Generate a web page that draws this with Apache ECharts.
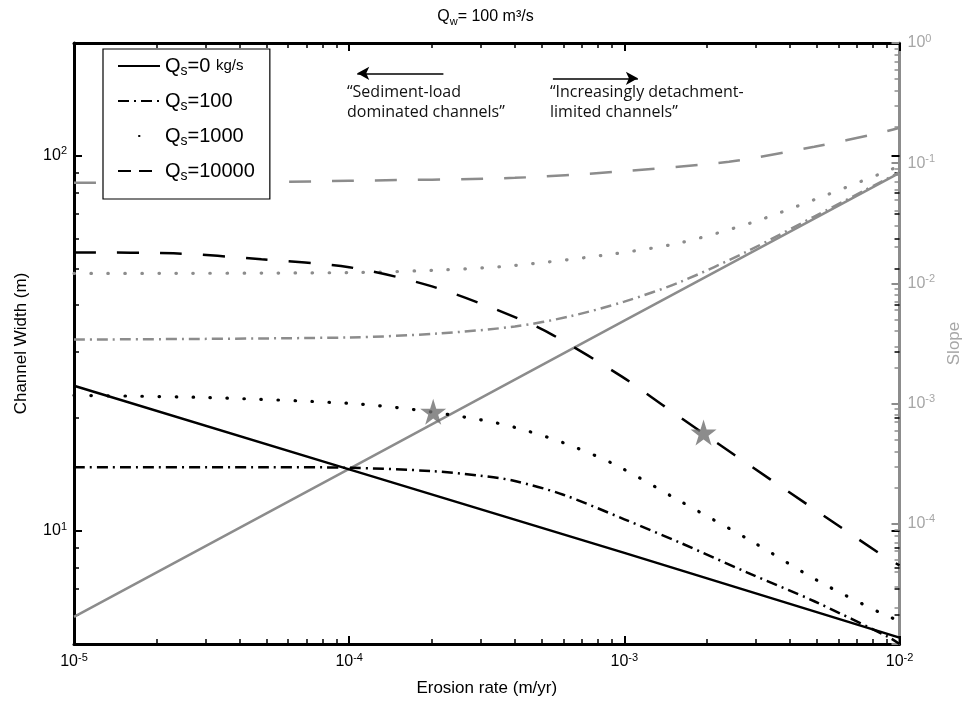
<!DOCTYPE html>
<html>
<head>
<meta charset="utf-8">
<script src="https://cdn.jsdelivr.net/npm/echarts@6/dist/echarts.min.js"></script>
<style>
  html, body { margin: 0; padding: 0; background: #fff; }
  #chart { width: 971px; height: 702px; }
</style>
</head>
<body>
<div id="chart"></div>
<script>
// erosion rate (m/yr) vs channel width (m), black; vs slope, grey
const widthQs0 = [[1e-5, 24.4], [1e-4, 14.6], [1e-3, 8.75], [1e-2, 5.2]]
const widthQs100 = [[1e-5, 14.8], [5e-5, 14.8], [1e-4, 14.75], [2e-4, 14.45], [3e-4, 14.05], [4e-4, 13.6], [6e-4, 12.5],
  [1e-3, 10.75], [1.6e-3, 9.3], [2.8e-3, 7.75], [4.9e-3, 6.5], [9.2e-3, 5.2], [1e-2, 5.0]]
const widthQs1000 = [[1e-5, 23.0], [3e-5, 22.7], [1e-4, 21.9], [1.7e-4, 21.1], [3e-4, 19.8], [4e-4, 18.9],
  [6e-4, 17.2], [9.3e-4, 15.0], [1.6e-3, 12.0], [2.9e-3, 9.4], [5e-3, 7.4], [8.9e-3, 5.96], [1e-2, 5.77]]
const widthQs10000 = [[1e-5, 55.3], [2.3e-5, 55.0], [4.8e-5, 53.0], [1e-4, 50.5], [2e-4, 44.9], [4e-4, 37.2],
  [5.5e-4, 33.3], [9.8e-4, 25.8], [1.4e-3, 21.5], [2.5e-3, 16.0], [4.6e-3, 11.8], [8.5e-3, 8.7], [1e-2, 8.1]]

const slopeQs0 = [[1e-5, 1.68e-5], [1e-4, 2.86e-4], [1e-3, 4.9e-3], [1e-2, 8.3e-2]]
const slopeQs100 = [[1e-5, 3.41e-3], [1e-4, 3.55e-3], [2.1e-4, 3.83e-3], [4e-4, 4.38e-3], [6.3e-4, 5.3e-3],
  [1e-3, 7.06e-3], [1.6e-3, 1.03e-2], [2.8e-3, 1.85e-2], [4.9e-3, 3.6e-2], [1e-2, 8.4e-2]]
const slopeQs1000 = [[1e-5, 1.21e-2], [1e-4, 1.23e-2], [2.25e-4, 1.30e-2], [4e-4, 1.41e-2], [9.3e-4, 1.77e-2],
  [1.6e-3, 2.18e-2], [2.9e-3, 3.2e-2], [4.9e-3, 4.97e-2], [8.9e-3, 8.5e-2], [1e-2, 9.5e-2]]
const slopeQs10000 = [[1e-5, 6.88e-2], [3e-5, 6.88e-2], [1e-4, 7.14e-2], [4e-4, 7.56e-2], [9.3e-4, 8.48e-2],
  [2.4e-3, 0.103], [4.9e-3, 0.137], [8.5e-3, 0.179], [1e-2, 0.197]]

const stars = [[2.02e-4, 20.8], [1.94e-3, 18.3]]
const dividerRate = 4e-4
const arrowLeft = [[2.2e-4, 166], [1.07e-4, 166]]
const arrowRight = [[5.5e-4, 161], [1.12e-3, 161]]

const legendNames = ['Qs=0 kg/s', 'Qs=100', 'Qs=1000', 'Qs=10000']
const legendLabels = ['{q|Q}{s|s}{q|=0 }{u|kg/s}', '{q|Q}{s|s}{q|=100}', '{q|Q}{s|s}{q|=1000}', '{q|Q}{s|s}{q|=10000}']

const erosionTicks = [1e-5, 1e-4, 1e-3, 1e-2]
const widthTicks = [10, 100]
const widthMinorTicks = [5, 6, 7, 8, 9, 20, 30, 40, 50, 60, 70, 80, 90, 200]
const slopeTicks = [1e-5, 1e-4, 1e-3, 1e-2, 1e-1, 1]
const slopeLabels = [1e-4, 1e-3, 1e-2, 1e-1, 1]

function minorOf(decades) {
  let out = []
  decades.slice(0, -1).forEach((d) => {
    for (let m = 2; m <= 9; m++) out.push(m * d)
  })
  return out
}

const FONT = 'Liberation Sans'
const GREY = '#8c8c8c'
const LABEL_GREY = '#a6a6a6'
const DASHDOT = [11, 5, 2, 5]
const DOTTED = [0.5, 16.5]
const DASHED = [22, 21]

function powRich(color) {
  return {
    b: { fontSize: 16, fontFamily: FONT, lineHeight: 20, color: color },
    e: { fontSize: 11, fontFamily: FONT, lineHeight: 9, verticalAlign: 'top', color: color }
  }
}
function powLabel(v) {
  return '{b|10}{e|' + Math.round(Math.log10(v)) + '}'
}

function tickAxis(base, values, len, color, extra) {
  return Object.assign({
    type: 'log',
    logBase: 10,
    splitLine: { show: false },
    axisLine: { show: false, onZero: false },
    axisLabel: { show: false },
    axisTick: { inside: true, length: len, customValues: values, lineStyle: { color: color, width: len > 6 ? 2 : 1.5 } }
  }, base, extra || {})
}

const xBase = { min: 1e-5, max: 1e-2 }
const yLeft = { min: 5, max: 200 }
const ySlope = { min: 1e-5, max: 1 }

const option = {
  animation: false,
  backgroundColor: '#fff',
  textStyle: { fontFamily: FONT },
  title: {
    text: '{q|Q}{s|w}{q|= 100 m³/s}',
    left: 'center',
    top: 2,
    textStyle: {
      fontWeight: 'normal',
      rich: {
        q: { fontSize: 16, fontFamily: FONT, fontWeight: 'normal', color: '#000', lineHeight: 20 },
        s: { fontSize: 11, fontFamily: FONT, fontWeight: 'normal', color: '#000', lineHeight: 8, verticalAlign: 'bottom' }
      }
    }
  },
  grid: { left: 74, right: 64, top: 43, bottom: 57 },
  legend: {
    orient: 'vertical',
    left: 103,
    top: 49,
    padding: [7, 15, 16, 14],
    itemWidth: 42,
    itemHeight: 14,
    itemGap: 13,
    borderColor: '#000',
    borderWidth: 1.2,
    borderRadius: 0,
    backgroundColor: '#fff',
    itemStyle: { color: 'rgba(0,0,0,0)', borderWidth: 0 },
    data: [
      { name: legendNames[0] },
      { name: legendNames[1] },
      { name: legendNames[2], lineStyle: { type: [0.5, 60], dashOffset: -21 } },
      { name: legendNames[3], lineStyle: { type: [13, 8] } }
    ],
    formatter: (name) => legendLabels[legendNames.indexOf(name)],
    textStyle: {
      color: '#000',
      rich: {
        q: { fontSize: 20, fontFamily: FONT, color: '#000', lineHeight: 24 },
        s: { fontSize: 14, fontFamily: FONT, color: '#000', lineHeight: 8, verticalAlign: 'bottom' },
        u: { fontSize: 15, fontFamily: FONT, color: '#000', lineHeight: 24 }
      }
    }
  },
  xAxis: [
    tickAxis(xBase, erosionTicks, 8, '#000', {
      position: 'bottom',
      axisLine: { show: true, onZero: false, lineStyle: { color: '#000', width: 3 } },
      axisLabel: { show: true, customValues: erosionTicks, margin: 8, color: '#000', formatter: powLabel, rich: powRich('#000') },
      name: 'Erosion rate (m/yr)',
      nameLocation: 'middle',
      nameGap: 36,
      nameTextStyle: { fontSize: 17, fontFamily: FONT, color: '#000' }
    }),
    tickAxis(xBase, minorOf(erosionTicks), 5, '#000', { position: 'bottom' }),
    tickAxis(xBase, erosionTicks, 8, '#000', {
      position: 'top',
      axisLine: { show: true, onZero: false, lineStyle: { color: '#000', width: 3 } }
    }),
    tickAxis(xBase, minorOf(erosionTicks), 5, '#000', { position: 'top' })
  ],
  yAxis: [
    tickAxis(yLeft, widthTicks, 8, '#000', {
      position: 'left',
      axisLine: { show: true, onZero: false, lineStyle: { color: '#000', width: 3 } },
      axisLabel: { show: true, customValues: widthTicks, margin: 7, color: '#000', formatter: powLabel, rich: powRich('#000') },
      name: 'Channel Width (m)',
      nameLocation: 'middle',
      nameGap: 44,
      nameTextStyle: { fontSize: 17, fontFamily: FONT, color: '#000' }
    }),
    tickAxis(yLeft, widthMinorTicks, 5, '#000', { position: 'left' }),
    tickAxis(yLeft, widthTicks, 8, '#000', { position: 'right' }),
    tickAxis(yLeft, widthMinorTicks, 5, '#000', { position: 'right' }),
    tickAxis(ySlope, slopeTicks, 8, GREY, {
      position: 'right',
      axisLine: { show: true, onZero: false, lineStyle: { color: GREY, width: 3 } },
      axisLabel: {
        show: true, customValues: slopeLabels, margin: 8, color: LABEL_GREY, formatter: powLabel, rich: powRich(LABEL_GREY)
      },
      name: 'Slope',
      nameLocation: 'middle',
      nameGap: 40,
      nameTextStyle: { fontSize: 17, fontFamily: FONT, color: LABEL_GREY }
    }),
    tickAxis(ySlope, minorOf(slopeTicks), 5, GREY, { position: 'right' })
  ],
  graphic: [
    {
      type: 'text', left: 347, top: 82,
      style: { text: '“Sediment-load\ndominated channels”', font: '16px "Open Sans"', fill: '#111', lineHeight: 20 }
    },
    {
      type: 'text', left: 550, top: 82,
      style: { text: '“Increasingly detachment-\nlimited channels”', font: '16px "Open Sans"', fill: '#111', lineHeight: 20 }
    }
  ],
  series: []
}

function addLine(name, data, yIdx, color, type, width, smooth) {
  option.series.push({
    name: name,
    type: 'line',
    xAxisIndex: 0,
    yAxisIndex: yIdx,
    data: data,
    symbol: 'none',
    smooth: smooth ? 0.3 : false,
    lineStyle: { color: color, width: width, type: type, cap: type === DOTTED ? 'round' : 'butt' },
    itemStyle: { color: color },
    z: yIdx === 0 ? 3 : 2
  })
}

addLine('slope0', slopeQs0, 4, GREY, 'solid', 2.5, false)
addLine('slope100', slopeQs100, 4, GREY, DASHDOT, 2.5, true)
addLine('slope1000', slopeQs1000, 4, GREY, DOTTED, 3.2, true)
addLine('slope10000', slopeQs10000, 4, GREY, DASHED, 2.5, true)
addLine(legendNames[0], widthQs0, 0, '#000', 'solid', 2.5, false)
addLine(legendNames[1], widthQs100, 0, '#000', DASHDOT, 2.5, true)
addLine(legendNames[2], widthQs1000, 0, '#000', DOTTED, 3.2, true)
addLine(legendNames[3], widthQs10000, 0, '#000', DASHED, 2.5, true)

option.series.push({
  name: 'stars',
  type: 'scatter',
  xAxisIndex: 0,
  yAxisIndex: 0,
  data: stars,
  symbol: 'path://M50,0 L61.2,34.5 L97.6,34.5 L68.2,55.9 L79.4,90.5 L50,69.1 L20.6,90.5 L31.8,55.9 L2.4,34.5 L38.8,34.5 Z',
  symbolSize: 26,
  itemStyle: { color: '#6f6f6f' },
  z: 5,
  markLine: {
    silent: true,
    symbol: 'none',
    label: { show: false },
    lineStyle: { color: '#000', width: 1.2, type: 'solid' },
    data: [{ xAxis: dividerRate }]
  }
})

option.series.push({
  name: 'arrows',
  type: 'line',
  xAxisIndex: 0,
  yAxisIndex: 0,
  data: [],
  markLine: {
    silent: true,
    symbol: ['none', 'arrow'],
    symbolSize: [10, 12],
    label: { show: false },
    lineStyle: { color: '#000', width: 1.5, type: 'solid' },
    data: [
      [{ coord: arrowLeft[0] }, { coord: arrowLeft[1] }],
      [{ coord: arrowRight[0] }, { coord: arrowRight[1] }]
    ]
  }
})

const chart = echarts.init(document.getElementById('chart'))
chart.setOption(option)
</script>
</body>
</html>
